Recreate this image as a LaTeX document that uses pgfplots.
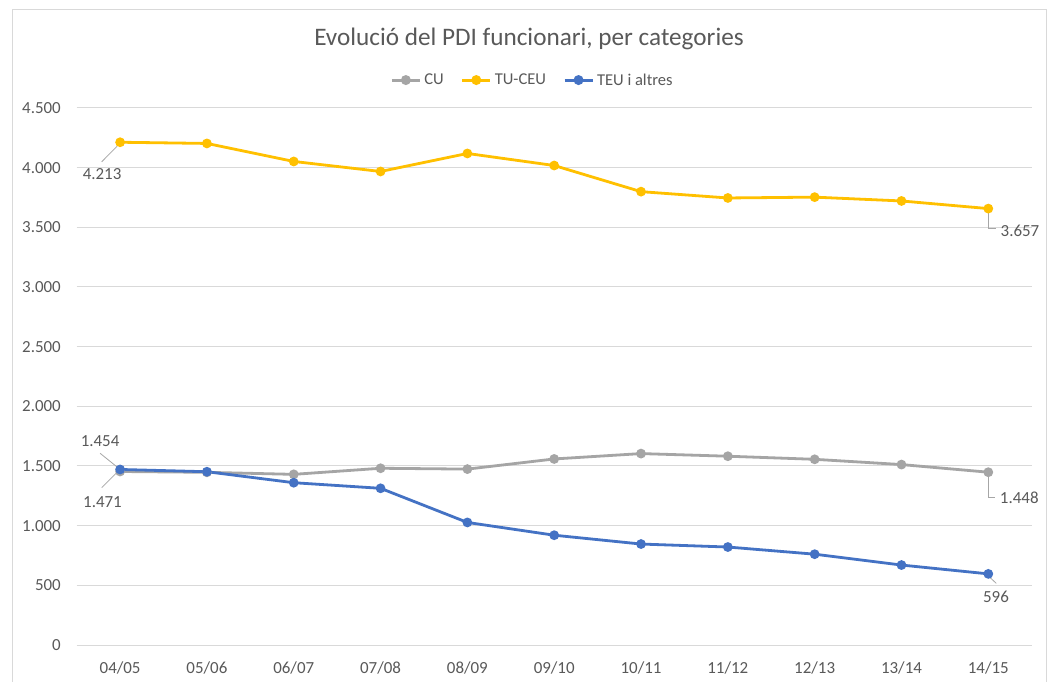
\documentclass[border=0pt]{standalone}
\usepackage{fontspec}
\setmainfont{Carlito}
\usepackage{pgfplots}
\pgfplotsset{compat=1.18}
\definecolor{cuC}{HTML}{A5A5A5}
\definecolor{tuC}{HTML}{FFC000}
\definecolor{teC}{HTML}{4472C4}
\definecolor{txtC}{HTML}{595959}
\definecolor{gridC}{HTML}{D9D9D9}
\definecolor{leadC}{HTML}{A6A6A6}
\newcommand{\lblfont}{\fontsize{17}{20}\selectfont}
\newcommand{\legfont}{\fontsize{16.6}{20}\selectfont}
\begin{document}
\begin{tikzpicture}
\useasboundingbox (0,0) rectangle (1051bp,682bp);
\fill[white] (0,0) rectangle (1051bp,682bp);
\draw[gridC, line width=1bp] (12bp,-5bp) -- (12bp,672bp) -- (1046bp,672bp) -- (1046bp,-5bp);
\node[anchor=base, text=txtC, font=\fontsize{25.3}{29}\selectfont] at (529bp,636bp) {Evolució del PDI funcionari, per categories};
\begin{axis}[
  at={(76.7bp,37bp)}, anchor=south west,
  scale only axis, width=955bp, height=537bp,
  xmin=-0.5, xmax=10.5, ymin=0, ymax=4500,
  xtick={0,...,10},
  xticklabels={04/05,05/06,06/07,07/08,08/09,09/10,10/11,11/12,12/13,13/14,14/15},
  ytick={0,500,...,4500},
  scaled y ticks=false,
  /pgf/number format/.cd, 1000 sep={.}, assume math mode=true,
  /pgfplots/.cd,
  axis line style={draw=none},
  major tick length=0pt,
  ymajorgrids, major grid style={gridC, line width=1bp},
  xticklabel style={anchor=base, yshift=-28bp, inner sep=0pt, font=\lblfont, text=txtC},
  yticklabel style={anchor=east, xshift=-15.7bp, inner sep=0pt, font=\lblfont, text=txtC},
  legend columns=-1,
  legend style={at={(axis description cs:0.4762,1.052)}, anchor=center, draw=none, fill=none,
    inner sep=0pt, column sep=0pt, nodes={inner sep=0pt, font=\legfont, text=txtC},
    /tikz/every odd column/.append style={column sep=3bp},
    /tikz/every even column/.append style={column sep=17bp}},
  legend image code/.code={
    \draw[#1, line width=3bp, mark repeat=2, mark phase=2] plot coordinates {(0bp,0bp) (14bp,0bp) (28bp,0bp)};
  },
  clip=false,
]
\addplot[cuC, line width=2.8bp, mark=*, mark size=3.4bp, mark options={solid, fill=cuC, draw=cuC}] coordinates {
(0,1454) (1,1447) (2,1430) (3,1481) (4,1474) (5,1559) (6,1604) (7,1582) (8,1556) (9,1512) (10,1448)};
\addlegendentry{CU}
\addplot[tuC, line width=2.8bp, mark=*, mark size=3.4bp, mark options={solid, fill=tuC, draw=tuC}] coordinates {
(0,4213) (1,4203) (2,4052) (3,3968) (4,4119) (5,4018) (6,3799) (7,3746) (8,3753) (9,3721) (10,3657)};
\addlegendentry{TU-CEU}
\addplot[teC, line width=2.8bp, mark=*, mark size=3.4bp, mark options={solid, fill=teC, draw=teC}] coordinates {
(0,1471) (1,1452) (2,1360) (3,1313) (4,1027) (5,920) (6,846) (7,821) (8,761) (9,670) (10,596)};
\addlegendentry{TEU i altres}
% data labels
\begin{scope}[every node/.style={font=\lblfont, text=txtC, inner sep=0pt}]
\draw[leadC, line width=0.8bp] ([xshift=-3bp,yshift=-4bp]axis cs:0,4213) -- ([xshift=-18.4bp,yshift=-19.5bp]axis cs:0,4213);
\node at ([xshift=-18bp,yshift=-31.7bp]axis cs:0,4213) {4.213};
\draw[leadC, line width=0.8bp] ([yshift=-3bp]axis cs:10,3657) -- ([yshift=-20bp]axis cs:10,3657) -- ([xshift=8bp,yshift=-20bp]axis cs:10,3657);
\node at ([xshift=31.7bp,yshift=-22.4bp]axis cs:10,3657) {3.657};
\draw[leadC, line width=0.8bp] ([xshift=-3.4bp,yshift=4.8bp]axis cs:0,1454) -- ([xshift=-20bp,yshift=18.2bp]axis cs:0,1454);
\node at ([xshift=-20bp,yshift=30.5bp]axis cs:0,1454) {1.454};
\draw[leadC, line width=0.8bp] ([xshift=-4bp,yshift=-3.8bp]axis cs:0,1471) -- ([xshift=-18.4bp,yshift=-18.2bp]axis cs:0,1471);
\node at ([xshift=-17.6bp,yshift=-32.5bp]axis cs:0,1471) {1.471};
\draw[leadC, line width=0.8bp] ([yshift=-3bp]axis cs:10,1448) -- ([yshift=-25bp]axis cs:10,1448) -- ([xshift=7bp,yshift=-25bp]axis cs:10,1448);
\node at ([xshift=31bp,yshift=-25.8bp]axis cs:10,1448) {1.448};
\draw[leadC, line width=0.8bp] ([xshift=1bp,yshift=-3bp]axis cs:10,596) -- ([xshift=8bp,yshift=-9.5bp]axis cs:10,596);
\node at ([xshift=7.7bp,yshift=-23bp]axis cs:10,596) {596};
\end{scope}
\end{axis}
\end{tikzpicture}
\end{document}
